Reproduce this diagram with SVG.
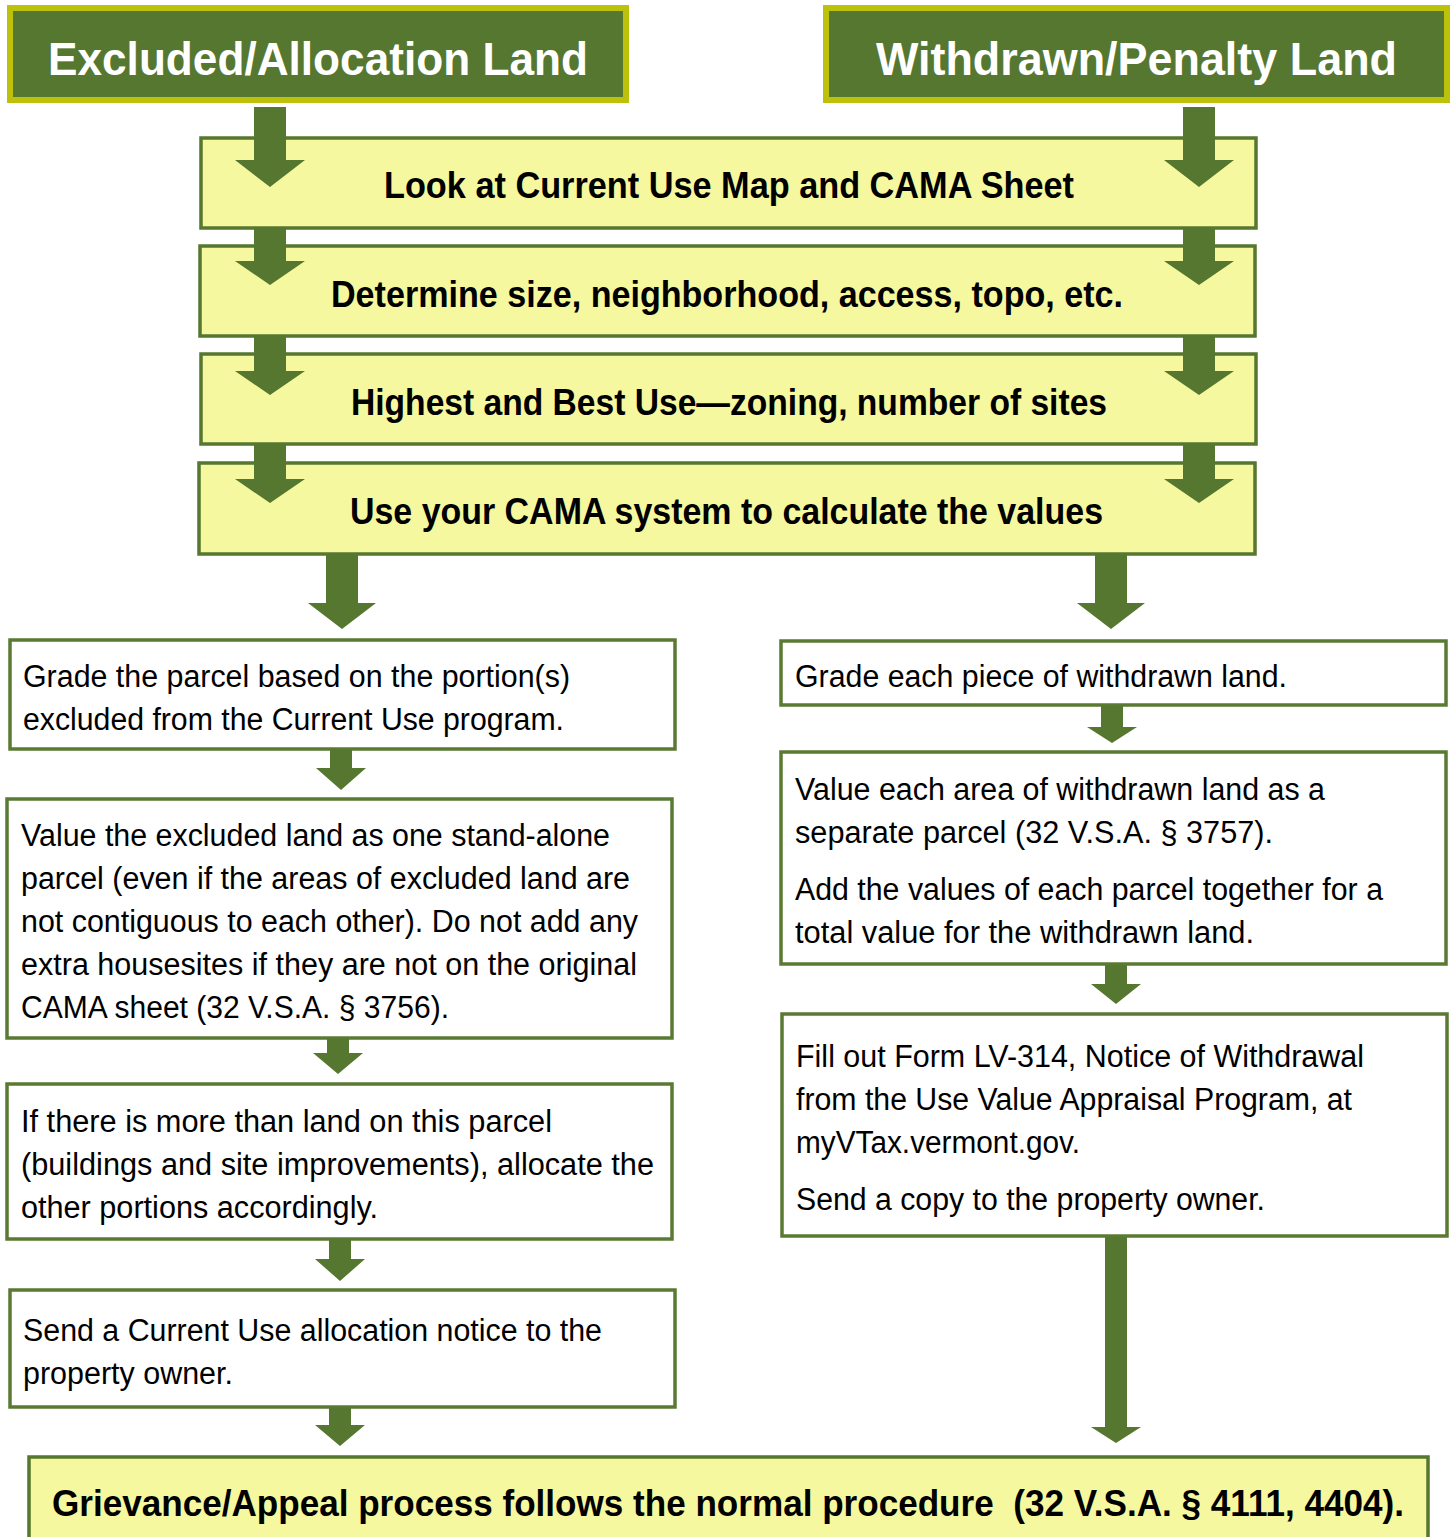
<svg xmlns="http://www.w3.org/2000/svg" width="1452" height="1537" viewBox="0 0 1452 1537">
<style>
.hdr{fill:#56772F;stroke:#BCC10B;stroke-width:6}
.ybox{fill:#F5F89E;stroke:#56772F;stroke-width:3.5}
.wbox{fill:#FFFFFF;stroke:#5A7A34;stroke-width:3.5}
.ht{font-family:"Liberation Sans",Arial,sans-serif;font-weight:bold;font-size:47px;fill:#FFFFFF}
.bt{font-family:"Liberation Sans",Arial,sans-serif;font-weight:bold;font-size:37px;fill:#000000}
.tx{font-family:"Liberation Sans",Arial,sans-serif;font-size:31px;fill:#000000}
.arr{fill:#56772F}
</style>
<rect width="1452" height="1537" fill="#FFFFFF"/>

<g id="hdr-excluded">
<rect class="hdr" x="10" y="8" width="616" height="92"/>
<text class="ht" x="48" y="75" textLength="540" lengthAdjust="spacingAndGlyphs">Excluded/Allocation Land</text>
</g>
<g id="hdr-withdrawn">
<rect class="hdr" x="826" y="8" width="621" height="92"/>
<text class="ht" x="876" y="75" textLength="521" lengthAdjust="spacingAndGlyphs">Withdrawn/Penalty Land</text>
</g>

<g id="step-look">
<rect class="ybox" x="201" y="138" width="1055" height="90"/>
<text class="bt" x="384" y="198" textLength="690" lengthAdjust="spacingAndGlyphs">Look at Current Use Map and CAMA Sheet</text>
</g>
<g id="step-determine">
<rect class="ybox" x="200" y="246" width="1055" height="90"/>
<text class="bt" x="331" y="307" textLength="792" lengthAdjust="spacingAndGlyphs">Determine size, neighborhood, access, topo, etc.</text>
</g>
<g id="step-hbu">
<rect class="ybox" x="201" y="354" width="1055" height="90"/>
<text class="bt" x="351" y="415" textLength="756" lengthAdjust="spacingAndGlyphs">Highest and Best Use—zoning, number of sites</text>
</g>
<g id="step-cama">
<rect class="ybox" x="199" y="463" width="1056" height="91"/>
<text class="bt" x="350" y="524" textLength="753" lengthAdjust="spacingAndGlyphs">Use your CAMA system to calculate the values</text>
</g>

<g id="left-grade">
<rect class="wbox" x="10" y="640" width="665" height="109"/>
<text class="tx" x="23" y="687" textLength="547" lengthAdjust="spacingAndGlyphs">Grade the parcel based on the portion(s)</text>
<text class="tx" x="23" y="730" textLength="541" lengthAdjust="spacingAndGlyphs">excluded from the Current Use program.</text>
</g>
<g id="left-value">
<rect class="wbox" x="7" y="799" width="665" height="239"/>
<text class="tx" x="21" y="846" textLength="589" lengthAdjust="spacingAndGlyphs">Value the excluded land as one stand-alone</text>
<text class="tx" x="21" y="889" textLength="609" lengthAdjust="spacingAndGlyphs">parcel (even if the areas of excluded land are</text>
<text class="tx" x="21" y="932" textLength="617" lengthAdjust="spacingAndGlyphs">not contiguous to each other). Do not add any</text>
<text class="tx" x="21" y="975" textLength="616" lengthAdjust="spacingAndGlyphs">extra housesites if they are not on the original</text>
<text class="tx" x="21" y="1018" textLength="428" lengthAdjust="spacingAndGlyphs">CAMA sheet (32 V.S.A. § 3756).</text>
</g>
<g id="left-allocate">
<rect class="wbox" x="7" y="1084" width="665" height="155"/>
<text class="tx" x="21" y="1132" textLength="531" lengthAdjust="spacingAndGlyphs">If there is more than land on this parcel</text>
<text class="tx" x="21" y="1175" textLength="633" lengthAdjust="spacingAndGlyphs">(buildings and site improvements), allocate the</text>
<text class="tx" x="21" y="1218" textLength="357" lengthAdjust="spacingAndGlyphs">other portions accordingly.</text>
</g>
<g id="left-notice">
<rect class="wbox" x="10" y="1290" width="665" height="117"/>
<text class="tx" x="23" y="1341" textLength="579" lengthAdjust="spacingAndGlyphs">Send a Current Use allocation notice to the</text>
<text class="tx" x="23" y="1384" textLength="210" lengthAdjust="spacingAndGlyphs">property owner.</text>
</g>

<g id="right-grade">
<rect class="wbox" x="781" y="641" width="665" height="64"/>
<text class="tx" x="795" y="687" textLength="492" lengthAdjust="spacingAndGlyphs">Grade each piece of withdrawn land.</text>
</g>
<g id="right-value">
<rect class="wbox" x="781" y="752" width="665" height="212"/>
<text class="tx" x="795" y="800" textLength="530" lengthAdjust="spacingAndGlyphs">Value each area of withdrawn land as a</text>
<text class="tx" x="795" y="843" textLength="478" lengthAdjust="spacingAndGlyphs">separate parcel (32 V.S.A. § 3757).</text>
<text class="tx" x="795" y="900" textLength="588" lengthAdjust="spacingAndGlyphs">Add the values of each parcel together for a</text>
<text class="tx" x="795" y="943" textLength="459" lengthAdjust="spacingAndGlyphs">total value for the withdrawn land.</text>
</g>
<g id="right-form">
<rect class="wbox" x="782" y="1014" width="665" height="222"/>
<text class="tx" x="796" y="1067" textLength="568" lengthAdjust="spacingAndGlyphs">Fill out Form LV-314, Notice of Withdrawal</text>
<text class="tx" x="796" y="1110" textLength="556" lengthAdjust="spacingAndGlyphs">from the Use Value Appraisal Program, at</text>
<text class="tx" x="796" y="1153" textLength="284" lengthAdjust="spacingAndGlyphs">myVTax.vermont.gov.</text>
<text class="tx" x="796" y="1210" textLength="469" lengthAdjust="spacingAndGlyphs">Send a copy to the property owner.</text>
</g>

<g id="final-grievance">
<rect class="ybox" x="29" y="1457" width="1399" height="90"/>
<text class="bt" x="52" y="1516" font-size="33" textLength="1352" lengthAdjust="spacingAndGlyphs">Grievance/Appeal process follows the normal procedure&#160; (32 V.S.A. § 4111, 4404).</text>
</g>

<g id="connectors">
<path class="arr" d="M254,107 H286 V160 H305 L270,187 L235,160 H254 Z"/>
<path class="arr" d="M254,229 H286 V261 H305 L270,285 L235,261 H254 Z"/>
<path class="arr" d="M254,337 H286 V371 H305 L270,395 L235,371 H254 Z"/>
<path class="arr" d="M254,445 H286 V479 H305 L270,503 L235,479 H254 Z"/>
<path class="arr" d="M1183,107 H1215 V160 H1234 L1199,187 L1164,160 H1183 Z"/>
<path class="arr" d="M1183,229 H1215 V261 H1234 L1199,285 L1164,261 H1183 Z"/>
<path class="arr" d="M1183,337 H1215 V371 H1234 L1199,395 L1164,371 H1183 Z"/>
<path class="arr" d="M1183,445 H1215 V479 H1234 L1199,503 L1164,479 H1183 Z"/>
<path class="arr" d="M326,555 H358 V603 H376 L342,629 L308,603 H326 Z"/>
<path class="arr" d="M1095,555 H1127 V603 H1145 L1111,629 L1077,603 H1095 Z"/>
<path class="arr" d="M330,750 H352 V768 H366 L341,790 L316,768 H330 Z"/>
<path class="arr" d="M327,1039 H349 V1053 H363 L338,1074 L313,1053 H327 Z"/>
<path class="arr" d="M329,1240 H351 V1259 H365 L340,1281 L315,1259 H329 Z"/>
<path class="arr" d="M329,1408 H351 V1425 H365 L340,1446 L315,1425 H329 Z"/>
<path class="arr" d="M1101,706 H1123 V727 H1137 L1112,743 L1087,727 H1101 Z"/>
<path class="arr" d="M1105,965 H1127 V984 H1141 L1116,1004 L1091,984 H1105 Z"/>
<path class="arr" d="M1105,1237 H1127 V1427 H1141 L1116,1443 L1091,1427 H1105 Z"/>
</g>
</svg>
